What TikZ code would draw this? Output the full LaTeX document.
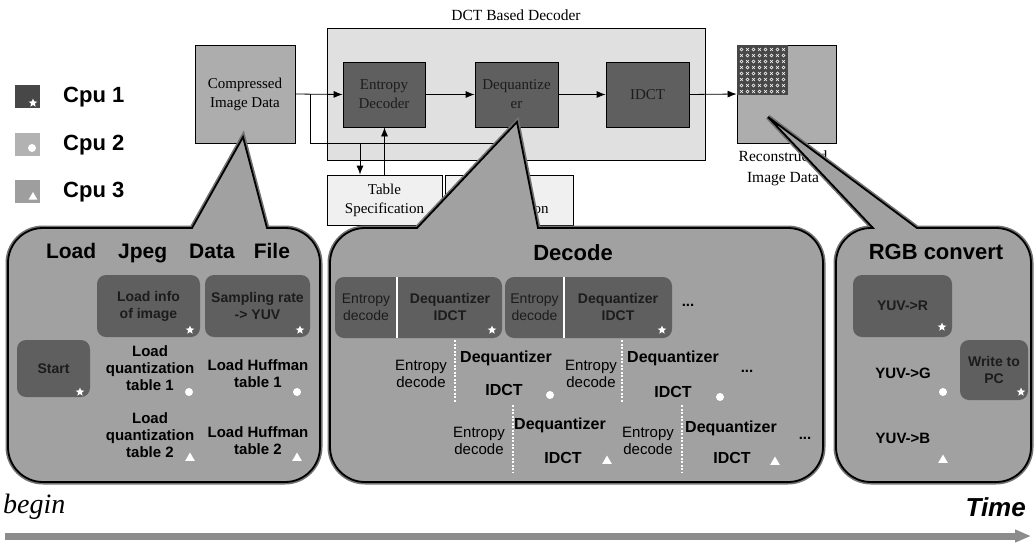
\documentclass[tikz,border=0pt]{standalone}
\usepackage{fontspec}
\setmainfont{Liberation Serif}
\newfontfamily\arial{Liberation Sans}
\usetikzlibrary{shapes.geometric,arrows.meta}
\newcommand\fs[2]{\fontsize{#1}{#2}\selectfont}
% callout path: x1,y1,x2,y2, pointer base a,b, tip tx,ty
\newcommand\mycall[8]{(#5,#2) -- (#7,#8) -- (#6,#2) -- (#3-35,#2) arc[start angle=270,end angle=360,radius=35] -- (#3,#4-35) arc[start angle=0,end angle=90,radius=35] -- (#1+35,#4) arc[start angle=90,end angle=180,radius=35] -- (#1,#2+35) arc[start angle=180,end angle=270,radius=35] -- cycle}
\definecolor{darkfill}{RGB}{95,95,95}
\definecolor{darktext}{RGB}{28,28,28}
\tikzset{
 every node/.style={inner sep=0pt, align=center},
 serifbox/.style={draw=black, line width=0.8pt, font=\fs{15}{19}},
 sqdark/.style={draw=black, line width=0.8pt, fill=darkfill, font=\fs{15}{19}, text=darktext},
 darkbox/.style={rounded corners=9pt, fill=darkfill},
 dtxt/.style={text=darktext, font=\arial\bfseries\fs{14}{17}},
 btxt/.style={font=\arial\bfseries\fs{15}{17}},
 qtxt/.style={font=\arial\bfseries\fs{16}{18}},
 ntxt/.style={font=\arial\fs{15}{17}},
 ttl/.style={font=\arial\bfseries\fs{22}{24}},
 legtxt/.style={font=\arial\bfseries\fs{22}{24}, anchor=west},
 callout/.style={draw=black, line width=1.8pt, fill=black!37},
 calloutshadow/.style={draw=black!55, line width=5pt},
 arr/.style={-{Latex[length=9pt,width=7pt]}, line width=0.8pt},
 starmk/.style={star, star points=5, star point ratio=2.3, fill=white, minimum size=9pt},
 dotmk/.style={circle, fill=white, minimum size=8pt},
 trimk/.style={regular polygon, regular polygon sides=3, fill=white, minimum size=11pt},
 divider/.style={white, line width=1.3pt, dash pattern=on 2pt off 1.5pt},
}
\begin{document}
\begin{tikzpicture}[x=1pt,y=-1pt]
\useasboundingbox[fill=white] (0,0) rectangle (1034,544);

% ---------- legend ----------
\node[fill=black!72, minimum width=25, minimum height=23] (l1) at (27.5,96.5) {};
\node[fill=black!30, minimum width=25, minimum height=23] (l2) at (27.5,144) {};
\node[fill=black!38, minimum width=25, minimum height=23] (l3) at (27.5,191) {};
\node[starmk, minimum size=9pt] (l1m) at (33,103) {};
\node[dotmk, minimum size=8pt] (l2m) at (32,148) {};
\node[trimk, minimum size=10pt] (l3m) at (33,197) {};
\node[legtxt] (c1) at (63,97) {Cpu 1};
\node[legtxt] (c2) at (63,145) {Cpu 2};
\node[legtxt] (c3) at (63,192) {Cpu 3};

% ---------- DCT decoder diagram ----------
\node[font=\fs{15.5}{18}] (dctlbl) at (516,15) {DCT Based Decoder};
\node[draw=black, line width=0.8pt, fill=black!12, minimum width=378, minimum height=132] (dct) at (516,94) {};
\node[serifbox, fill=black!32, minimum width=100, minimum height=98] (comp) at (245,94) {Compressed\\Image Data};
\node[sqdark, minimum width=82, minimum height=65] (ent) at (384,94.5) {\color{darktext}Entropy\\\color{darktext}Decoder};
\node[sqdark, minimum width=83, minimum height=65] (deq) at (516.5,94.5) {\color{darktext}Dequantize\\\color{darktext}er};
\node[sqdark, minimum width=83, minimum height=65] (idct) at (647.5,94.5) {\color{darktext}IDCT};
\node[serifbox, fill=black!6, minimum width=115, minimum height=50] (tab1) at (384.5,200) {Table\\Specification};
\node[serifbox, fill=black!6, minimum width=128, minimum height=50] (tab2) at (509,200) {Table\\Specification};

% reconstructed image
\node[serifbox, fill=black!32, minimum width=99, minimum height=98] (recon) at (786.5,94) {};
\fill[black!72] (recon.north west) rectangle ++(51,50);
\foreach \i in {0,...,7}{\foreach \j in {0,...,7}{
  \pgfmathtruncatemacro\k{mod(\i+\j,2)}
  \ifnum\k=0
    \draw[white, line width=0.5pt] (741.5+6*\i,49.5+6*\j) circle[radius=1.5];
  \else
    \draw[white, line width=0.5pt] (740+6*\i,48+6*\j) -- ++(3,3) (743+6*\i,48+6*\j) -- ++(-3,3);
  \fi}}
\node[font=\fs{15.5}{21}] (reclbl) at (783,168) {Reconstructed\\Image Data};

% connectors
\draw[arr] (comp.east) -- (ent.west);
\draw[arr] (ent) -- (deq);
\draw[arr] (deq) -- (idct);
\draw[arr] (idct.east) -- (recon.west);
\coordinate (br) at (310,94);
\coordinate (brend) at (495,143);
\draw[line width=0.8pt] (br) |- (brend);
\coordinate (d1) at (360,143);
\draw[arr] (d1) -- (d1 |- tab1.north);
\draw[arr] (tab1.north) -- (tab1.north |- ent.south);

% ---------- callouts ----------
\draw[calloutshadow] \mycall{8}{228}{320}{482}{192}{267}{243}{137};
\draw[callout] \mycall{8}{228}{320}{482}{192}{267}{243}{137};
\draw[calloutshadow] \mycall{330}{228}{823}{482}{417}{538}{517}{122};
\draw[callout] \mycall{330}{228}{823}{482}{417}{538}{517}{122};
\draw[calloutshadow] \mycall{836}{228}{1031}{482}{873}{917}{768}{117};
\draw[callout] \mycall{836}{228}{1031}{482}{873}{917}{768}{117};

% ---------- Load Jpeg Data File ----------
\node[ttl, font=\arial\bfseries\fs{21}{24}] (t1) at (168,253) {Load\hspace{22pt}Jpeg\hspace{22pt}Data\hspace{19pt}File};
\node[darkbox, dtxt, minimum width=103, minimum height=62] (info) at (148.5,306) {\color{darktext}Load info\\\color{darktext}of image};
\node[darkbox, dtxt, minimum width=105, minimum height=62] (samp) at (257.5,306) {\color{darktext}Sampling rate\\\color{darktext}-> YUV};
\node[darkbox, dtxt, minimum width=73, minimum height=57] (start) at (53.5,368.5) {\color{darktext}Start};
\node[btxt] (q1) at (150,368) {Load\\quantization\\table 1};
\node[btxt] (h1) at (258,374) {Load Huffman\\table 1};
\node[btxt] (q2) at (150,435) {Load\\quantization\\table 2};
\node[btxt] (h2) at (258,441) {Load Huffman\\table 2};
\node[starmk] at (190,330) {};
\node[starmk] at (300,330) {};
\node[starmk] at (80,392) {};
\node[dotmk] at (189,392) {};
\node[dotmk] at (297,392) {};
\node[trimk] at (190,458) {};
\node[trimk] at (297,458) {};

% ---------- Decode ----------
\node[ttl] (t2) at (573,253) {Decode};
\node[darkbox, minimum width=167, minimum height=61] (pA) at (418.5,307.5) {};
\node[darkbox, minimum width=167, minimum height=61] (pB) at (588.5,307.5) {};
\draw[white, line width=1.5pt] (397,277) -- (397,338);
\draw[white, line width=1.5pt] (564,277) -- (564,338);
\node[font=\arial\fs{14}{17}] (pAe) at (366,307) {\color{darktext}Entropy\\\color{darktext}decode};
\node[dtxt] (pAq) at (450,307) {\color{darktext}Dequantizer\\\color{darktext}IDCT};
\node[font=\arial\fs{14}{17}] (pBe) at (534.5,307) {\color{darktext}Entropy\\\color{darktext}decode};
\node[dtxt] (pBq) at (618,307) {\color{darktext}Dequantizer\\\color{darktext}IDCT};
\node[starmk] at (492,330) {};
\node[starmk] at (662,330) {};
\node[btxt] at (688,305) {...};
% row 2
\node[ntxt] at (421,374) {Entropy\\decode};
\draw[divider] (455,340) -- (455,403);
\node[qtxt] at (506,358) {Dequantizer};
\node[qtxt] at (504,390) {IDCT};
\node[dotmk] at (550,395) {};
\node[ntxt] at (591,374) {Entropy\\decode};
\draw[divider] (622,340) -- (622,403);
\node[qtxt] at (673,358) {Dequantizer};
\node[qtxt] at (673,392) {IDCT};
\node[dotmk] at (720,397) {};
\node[btxt] at (747,371) {...};
% row 3
\node[ntxt] at (479,441) {Entropy\\decode};
\draw[divider] (513,405) -- (513,472);
\node[qtxt] at (560,425) {Dequantizer};
\node[qtxt] at (563,458) {IDCT};
\node[trimk] at (607,461) {};
\node[ntxt] at (648,441) {Entropy\\decode};
\draw[divider] (682,405) -- (682,472);
\node[qtxt] at (731,428) {Dequantizer};
\node[qtxt] at (732,458) {IDCT};
\node[trimk] at (775,462) {};
\node[btxt] at (805,438) {...};

% ---------- RGB convert ----------
\node[ttl] (t3) at (936,252) {RGB convert};
\node[darkbox, dtxt, minimum width=99, minimum height=62] (yr) at (902.5,306) {\color{darktext}YUV->R};
\node[darkbox, dtxt, minimum width=68, minimum height=60] (pc) at (994,370) {\color{darktext}Write to\\\color{darktext}PC};
\node[starmk] at (942,327) {};
\node[starmk] at (1021,392) {};
\node[btxt] (yg) at (903,373) {YUV->G};
\node[dotmk] at (943,392) {};
\node[btxt] (yb) at (903,438) {YUV->B};
\node[trimk] at (943,460) {};

% ---------- time axis ----------
\node[font=\itshape\fs{28}{30}, anchor=west] (begin) at (3,507) {begin};
\node[font=\arial\bfseries\itshape\fs{26}{28}, anchor=east] (time) at (1026,507) {Time};
\coordinate (ts) at (5,536);
\coordinate (te) at (1031,536);
\draw[line width=7pt, black!45, -{Triangle[length=16pt,width=12pt]}] (ts) -- (te);
\end{tikzpicture}
\end{document}
